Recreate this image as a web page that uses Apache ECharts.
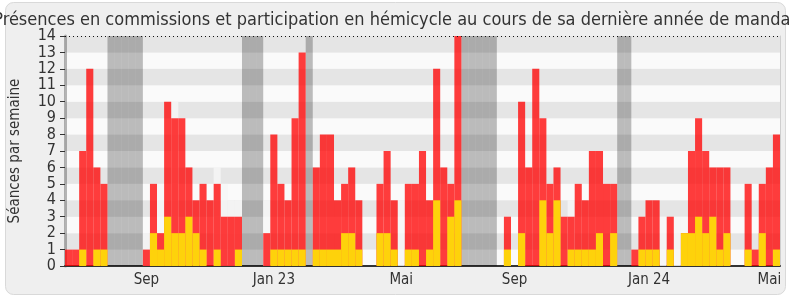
<!DOCTYPE html>
<html>
<head>
<meta charset="utf-8">
<script src="https://cdn.jsdelivr.net/npm/echarts@6/dist/echarts.min.js"></script>
<style>
  html, body { margin: 0; padding: 0; background: #fff; }
  #chart { width: 790px; height: 300px; }
</style>
</head>
<body>
<div id="chart"></div>
<script>
// semaines (1 = première semaine du graphique)
const weekCount = 101
const yMax = 14

// présences en commission, par semaine
const commission = [
  1, 1, 7, 12, 6, 5, 0, 0, 0, 0,
  0, 1, 5, 2, 10, 9, 9, 6, 4, 5,
  4, 5, 3, 3, 3, 0, 0, 0, 2, 8,
  5, 4, 9, 13, 0, 6, 8, 8, 4, 5,
  6, 4, 0, 0, 5, 7, 4, 0, 5, 5,
  7, 4, 12, 6, 5, 14, 0, 0, 0, 0,
  0, 0, 3, 0, 10, 6, 12, 9, 5, 6,
  3, 3, 5, 4, 7, 7, 5, 5, 0, 0,
  1, 3, 4, 4, 0, 3, 0, 2, 7, 9,
  7, 6, 6, 6, 0, 0, 5, 1, 5, 6,
  8
]

// participation en hémicycle, par semaine
const hemicycle = [
  0, 0, 1, 0, 1, 1, 0, 0, 0, 0,
  0, 0, 2, 1, 3, 2, 2, 3, 2, 1,
  0, 1, 0, 0, 1, 0, 0, 0, 0, 1,
  1, 1, 1, 1, 0, 1, 1, 1, 1, 2,
  2, 1, 0, 0, 2, 2, 1, 0, 1, 1,
  0, 1, 4, 0, 3, 4, 0, 0, 0, 0,
  0, 0, 1, 0, 2, 0, 0, 4, 2, 4,
  0, 1, 1, 1, 1, 2, 0, 2, 0, 0,
  0, 1, 1, 1, 0, 1, 0, 2, 2, 3,
  2, 3, 1, 2, 0, 0, 1, 0, 2, 0,
  1
]

// présence en hémicycle (barres claires), [semaine, valeur]
const presence = [
  [12, 2], [14, 5], [16, 10], [22, 6], [23, 5], [24, 4], [25, 4],
  [29, 4], [48, 4], [72, 4], [85, 3], [87, 3], [88, 3]
]

// vacances parlementaires
const vacationWeeks = [7, 8, 9, 10, 11, 26, 27, 28, 35, 57, 58, 59, 60, 61, 79, 80]

// étiquettes de l'axe des x
const labelWeeks = [12, 30, 48, 64, 83, 100]
const labelTexts = ['Sep', 'Jan 23', 'Mai', 'Sep', 'Jan 24', 'Mai']

const FONT = "'DejaVu Sans Condensed', 'DejaVu Sans', sans-serif"

const weeks = Array.from({ length: weekCount }, (_, i) => String(i + 1))
const presenceMap = {}
presence.forEach(([w, v]) => { presenceMap[w] = v })

const chart = echarts.init(document.getElementById('chart'))

const barBase = {
  type: 'bar',
  barGap: '-100%',
  barCategoryGap: '0%',
  silent: true,
  animation: false
}

chart.setOption({
  backgroundColor: '#fff',
  animation: false,
  title: {
    text: 'Présences en commissions et participation en hémicycle au cours de sa dernière année de mandat',
    left: 'center',
    top: 11,
    padding: 0,
    textStyle: { fontFamily: FONT, fontSize: 18, fontWeight: 'normal', color: '#333' }
  },
  graphic: [{
    type: 'rect',
    z: -10,
    shape: { x: 5.5, y: 2.5, width: 780, height: 292, r: 8 },
    style: { fill: '#efefef', stroke: '#d9d9d9', lineWidth: 1 }
  }],
  grid: { left: 64, right: 10, top: 36, bottom: 34 },
  xAxis: {
    type: 'category',
    data: weeks,
    boundaryGap: true,
    axisLine: { lineStyle: { color: '#333', width: 2 } },
    axisTick: { show: false },
    axisLabel: {
      margin: 7,
      fontFamily: FONT,
      fontSize: 15,
      color: '#333',
      interval: (idx) => labelWeeks.includes(idx + 1),
      formatter: (val) => labelTexts[labelWeeks.indexOf(Number(val))] || ''
    },
    splitLine: { show: false }
  },
  yAxis: [{
    type: 'value',
    min: 0,
    max: yMax,
    interval: 1,
    name: 'Séances par semaine',
    nameLocation: 'middle',
    nameRotate: 90,
    nameGap: 42,
    nameTextStyle: { fontFamily: FONT, fontSize: 15, color: '#333' },
    axisLine: { show: true, lineStyle: { color: 'rgba(0,0,0,0.28)', width: 3 } },
    axisTick: { show: true, length: 5, lineStyle: { color: '#333' } },
    axisLabel: { margin: 9, fontFamily: FONT, fontSize: 16, color: '#333' },
    splitLine: { show: false },
    splitArea: { show: true, areaStyle: { color: ['#fafafa', '#e5e5e5'] } }
  }, {
    type: 'value',
    min: 0,
    max: yMax,
    position: 'right',
    axisLine: { show: true, lineStyle: { color: '#cfcfcf', width: 1 } },
    axisTick: { show: false },
    axisLabel: { show: false },
    splitLine: { show: false },
    splitArea: { show: false }
  }],
  series: [
    Object.assign({}, barBase, {
      name: 'vacances',
      data: weeks.map(w => vacationWeeks.includes(Number(w)) ? yMax : 0),
      itemStyle: { color: 'rgba(0,0,0,0.25)' }
    }),
    Object.assign({}, barBase, {
      name: 'présence hémicycle',
      data: weeks.map(w => presenceMap[w] ?? 0),
      itemStyle: { color: 'rgba(246,246,246,0.85)' }
    }),
    Object.assign({}, barBase, {
      name: 'commission',
      data: commission,
      itemStyle: { color: 'rgba(255,0,0,0.76)' }
    }),
    Object.assign({}, barBase, {
      name: 'hémicycle',
      data: hemicycle,
      itemStyle: { color: '#fed20b' },
      markLine: {
        silent: true,
        symbol: 'none',
        label: { show: false },
        lineStyle: { color: '#111', type: [1, 3], width: 1 },
        data: [{ yAxis: yMax }]
      }
    })
  ]
})
</script>
</body>
</html>
